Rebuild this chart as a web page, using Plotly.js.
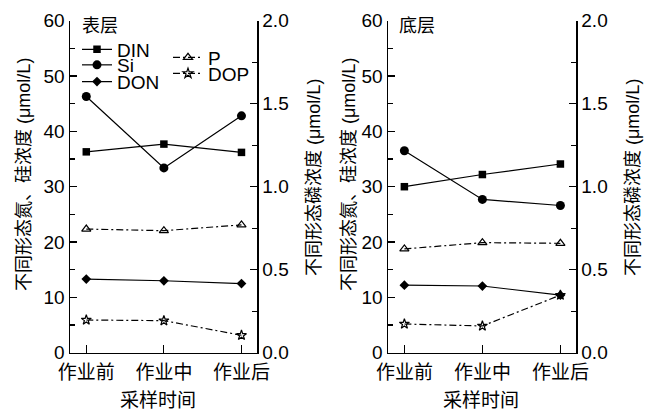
<!DOCTYPE html>
<html>
<head>
<meta charset="utf-8">
<script src="https://cdn.plot.ly/plotly-3.0.1.min.js"></script>
<style>html,body{margin:0;padding:0;background:#fff;}#chart{width:653px;height:413px;}</style>
</head>
<body>
<div id="chart"></div>
<script>
// ---- data ----
var categories = ['作业前', '作业中', '作业后'];
var seriesNames = ['DIN', 'Si', 'DON', 'P', 'DOP'];
var surfaceDIN = [36.3, 37.7, 36.2];
var surfaceSi  = [46.3, 33.4, 42.8];
var surfaceDON = [13.3, 13.0, 12.5];
var surfaceP   = [0.745, 0.735, 0.770];
var surfaceDOP = [0.197, 0.193, 0.105];
var bottomDIN  = [30.0, 32.2, 34.1];
var bottomSi   = [36.5, 27.7, 26.6];
var bottomDON  = [12.2, 12.05, 10.4];
var bottomP    = [0.625, 0.663, 0.659];
var bottomDOP  = [0.173, 0.161, 0.347];
var panelLabels = ['表层', '底层'];
var xTitle = '采样时间';
var yLeftTitle = '不同形态氮、硅浓度 (μmol/L)';
var yRightTitle = '不同形态磷浓度 (μmol/L)';

// ---- styling ----
var W = 653, H = 413;
var FONT = 'Liberation Sans, Arial, Noto Sans CJK SC, sans-serif';
var black = '#000';
var solid = {color: black, width: 1.2};
var dashdot = {color: black, width: 1.2, dash: '7px,3px,2px,3px'};
function px(x) { return x / W; }
function py(y) { return 1 - y / H; }

function mk(x, y, name, xa, ya, line, marker, legendId, show) {
  return {
    x: x, y: y, name: name, xaxis: xa, yaxis: ya, type: 'scatter', mode: 'lines+markers',
    line: line, marker: marker, legend: legendId, showlegend: show, cliponaxis: false
  };
}
var mSq = {symbol: 'square', size: 7.5, color: black};
var mCi = {symbol: 'circle', size: 9, color: black};
var mDi = {symbol: 'diamond', size: 7.5, color: black};
var mTr = {symbol: 'triangle-up-open', size: 8, color: black, line: {width: 1.2, color: black}};
var mSt = {symbol: 'star-open', size: 7.5, color: black, line: {width: 1.2, color: black}};

var traces = [
  mk(categories, surfaceDIN, seriesNames[0], 'x', 'y', solid, mSq, 'legend', true),
  mk(categories, surfaceSi,  seriesNames[1], 'x', 'y', solid, mCi, 'legend2', true),
  mk(categories, surfaceDON, seriesNames[2], 'x', 'y', solid, mDi, 'legend3', true),
  mk(categories, surfaceP,   seriesNames[3], 'x', 'y2', dashdot, mTr, 'legend4', true),
  mk(categories, surfaceDOP, seriesNames[4], 'x', 'y2', dashdot, mSt, 'legend5', true),
  mk(categories, bottomDIN,  seriesNames[0], 'x2', 'y3', solid, mSq, 'legend', false),
  mk(categories, bottomSi,   seriesNames[1], 'x2', 'y3', solid, mCi, 'legend', false),
  mk(categories, bottomDON,  seriesNames[2], 'x2', 'y3', solid, mDi, 'legend', false),
  mk(categories, bottomP,    seriesNames[3], 'x2', 'y4', dashdot, mTr, 'legend', false),
  mk(categories, bottomDOP,  seriesNames[4], 'x2', 'y4', dashdot, mSt, 'legend', false)
];

var yDom = [py(352.7), py(20.7)];
var tickFont = {family: FONT, size: 19, color: black};

function xAxis(dom, anchor) {
  return {
    domain: dom, anchor: anchor, type: 'category', range: [-0.21, 2.2],
    showline: true, linewidth: 1.5, linecolor: black, mirror: false,
    ticks: 'inside', ticklen: 8, tickwidth: 1.2, tickcolor: black,
    showgrid: false, zeroline: false, tickfont: tickFont, ticklabelstandoff: 2,
    automargin: false, fixedrange: true
  };
}
function yLeft(anchor) {
  return {
    domain: yDom, anchor: anchor, side: 'left', range: [0, 60], dtick: 10,
    showline: true, linewidth: 1.5, linecolor: black,
    ticks: 'inside', ticklen: 7, tickwidth: 1.2, tickcolor: black,
    minor: {dtick: 5, ticks: 'inside', ticklen: 5, tickwidth: 1.2, tickcolor: black, showgrid: false},
    showgrid: false, zeroline: false, tickfont: tickFont, automargin: false, fixedrange: true
  };
}
function yRight(anchor, over) {
  return {
    domain: yDom, anchor: anchor, overlaying: over, side: 'right', range: [0, 2], dtick: 0.5,
    tickformat: '.1f',
    showline: true, linewidth: 1.5, linecolor: black,
    ticks: 'inside', ticklen: 7, tickwidth: 1.2, tickcolor: black,
    minor: {dtick: 0.25, ticks: 'inside', ticklen: 5, tickwidth: 1.2, tickcolor: black, showgrid: false},
    showgrid: false, zeroline: false, tickfont: tickFont, automargin: false, fixedrange: true
  };
}
function leg(xPix, yPix) {
  return {
    x: px(xPix), y: py(yPix), xanchor: 'left', yanchor: 'middle',
    bgcolor: 'rgba(0,0,0,0)', borderwidth: 0, font: {family: FONT, size: 19, color: black},
    itemwidth: 30, tracegroupgap: 0
  };
}
function ann(text, xPix, yPix, angle, xanchor, size) {
  return {text: text, xref: 'paper', yref: 'paper', x: px(xPix), y: py(yPix),
    xanchor: xanchor || 'center', yanchor: 'middle', textangle: angle || 0, showarrow: false,
    font: {family: FONT, size: size || 18, color: black}};
}

var layout = {
  width: W, height: H,
  margin: {l: 0, r: 0, t: 0, b: 0, pad: 0},
  paper_bgcolor: '#fff', plot_bgcolor: 'rgba(0,0,0,0)',
  font: {family: FONT, size: 18, color: black},
  showlegend: true,
  xaxis: xAxis([px(70), px(257)], 'y'),
  yaxis: yLeft('x'),
  yaxis2: yRight('x', 'y'),
  xaxis2: xAxis([px(388), px(576)], 'y3'),
  yaxis3: yLeft('x2'),
  yaxis4: yRight('x2', 'y3'),
  legend: leg(77, 49.5),
  legend2: leg(77, 65),
  legend3: leg(77, 81.7),
  legend4: leg(168, 57.5),
  legend5: leg(168, 73.5),
  annotations: [
    ann(panelLabels[0], 80, 26, 0, 'left'),
    ann(panelLabels[1], 397, 26, 0, 'left'),
    ann(xTitle, 158, 400, 0, 'center', 19),
    ann(xTitle, 481, 400, 0, 'center', 19),
    ann(yLeftTitle, 24, 175, -90),
    ann(yRightTitle, 314, 178, -90),
    ann(yLeftTitle, 349, 175, -90),
    ann(yRightTitle, 633, 178, -90)
  ]
};

Plotly.newPlot('chart', traces, layout, {displayModeBar: false, staticPlot: true});
</script>
</body>
</html>
